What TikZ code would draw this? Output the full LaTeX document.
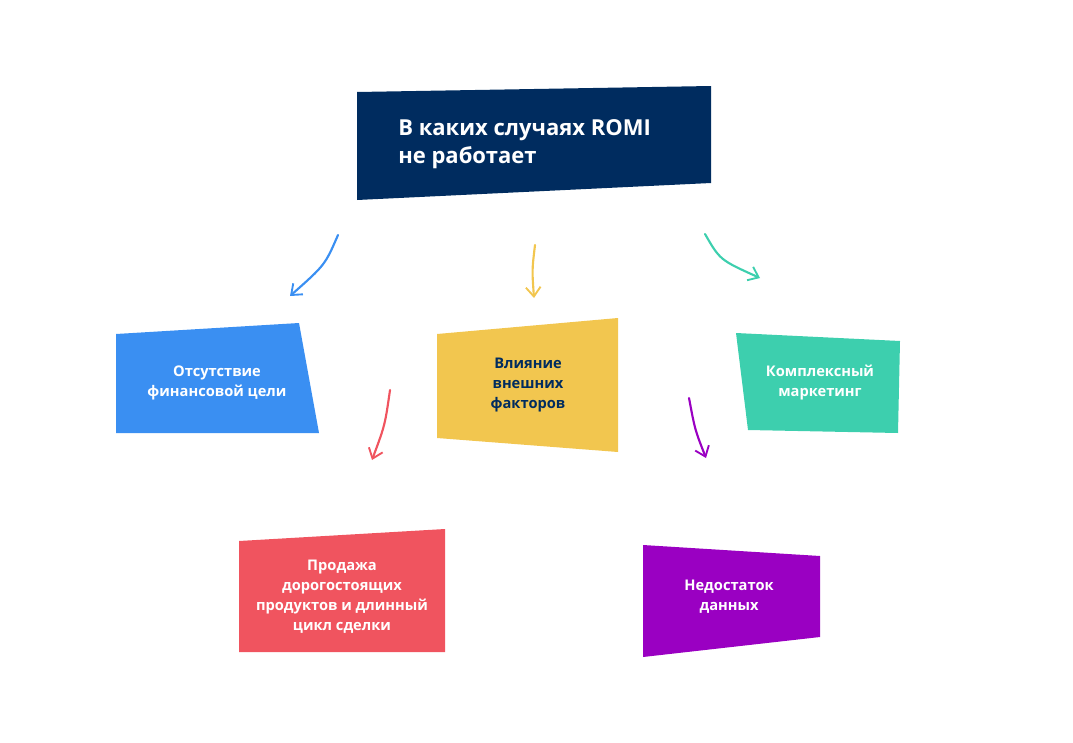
\documentclass[tikz,border=0pt]{standalone}
\usepackage{fontspec}
\setmainfont{Open Sans}
\usetikzlibrary{arrows.meta}
\definecolor{navy}{HTML}{002C5F}
\definecolor{cblue}{HTML}{3A8FF2}
\definecolor{cyellow}{HTML}{F2C64F}
\definecolor{cteal}{HTML}{3DCFAE}
\definecolor{cred}{HTML}{F0545F}
\definecolor{cpurple}{HTML}{9A00C2}
\tikzset{
  lbl/.style={align=center,font=\bfseries\fontsize{11}{15}\selectfont,text=white,inner sep=0.75pt},
  arr/.style={line width=1.6pt,line cap=round,-{Straight Barb[length=7pt,width=11pt,line width=1.4pt]}}
}
\begin{document}
\begin{tikzpicture}[x=0.75pt,y=0.75pt,yscale=-1,xscale=1]
\useasboundingbox (0,0) rectangle (1073,742);

% Title
\fill[navy] (357,92) -- (711,86) -- (711,183) -- (357,200) -- cycle;
\node[lbl,align=left,anchor=west,font=\bfseries\fontsize{16.5}{21}\selectfont] (title) at (397,144) {В каких случаях ROMI\\не работает};

% Boxes
\fill[cblue] (116,334) -- (299,323) -- (319,433) -- (116,433) -- cycle;
\node[lbl] (goal) at (217,383) {Отсутствие\\финансовой цели};
\fill[cyellow] (437,334) -- (618,318) -- (618,452) -- (437,438) -- cycle;
\node[lbl,text=navy] (ext) at (528,385) {Влияние\\внешних\\факторов};
\fill[cteal] (736,333) -- (900,341) -- (898,433) -- (748,430) -- cycle;
\node[lbl] (mix) at (820,383) {Комплексный\\маркетинг};
\fill[cred] (239,541) -- (445,529) -- (445,652) -- (239,652) -- cycle;
\node[lbl] (sale) at (342,597) {Продажа\\дорогостоящих\\продуктов и длинный\\цикл сделки};
\fill[cpurple] (643,545) -- (820,556) -- (820,637) -- (643,657) -- cycle;
\node[lbl] (data) at (729,597) {Недостаток\\данных};

% Arrows
\coordinate (a1) at (338,235); \coordinate (b1) at (290,296);
\coordinate (a2) at (535,245); \coordinate (b2) at (534,298);
\coordinate (a3) at (705,234); \coordinate (b3) at (760,278);
\coordinate (a4) at (390,390); \coordinate (b4) at (372,460);
\coordinate (a5) at (689,398); \coordinate (b5) at (706,458);
\draw[arr,cblue] (a1) .. controls (325,265) .. (b1);
\draw[arr,cyellow] (a2) .. controls (532,270) .. (b2);
\draw[arr,cteal] (a3) .. controls (720,260) .. (b3);
\draw[arr,cred] (a4) .. controls (385,425) .. (b4);
\draw[arr,cpurple] (a5) .. controls (695,430) .. (b5);
\end{tikzpicture}
\end{document}
